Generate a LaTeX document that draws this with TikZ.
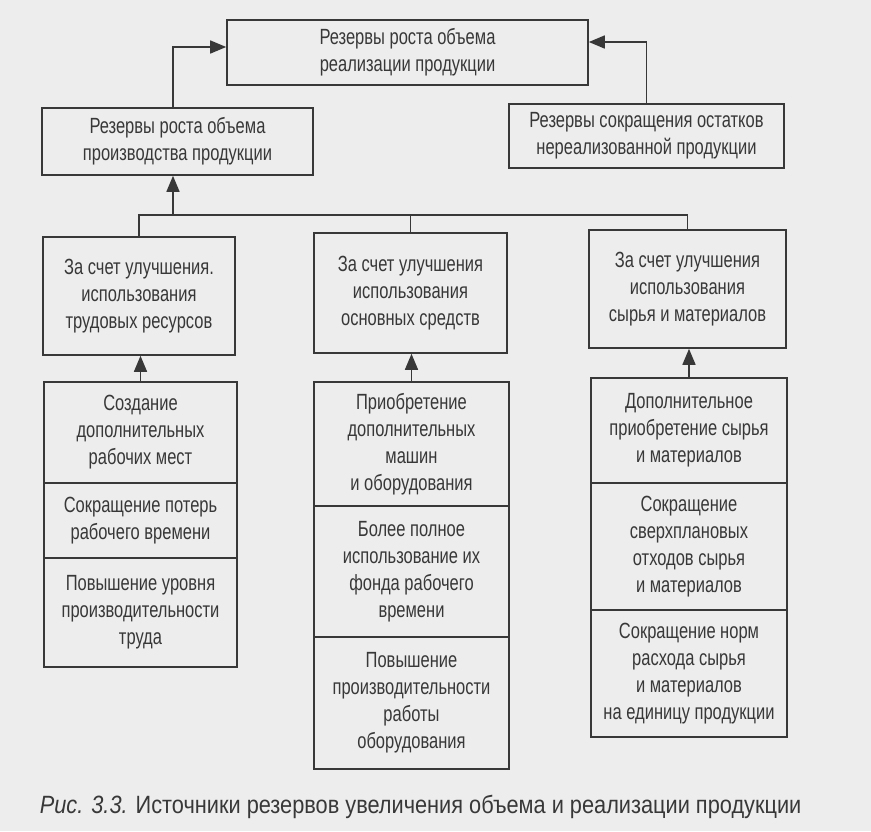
\documentclass[tikz,border=0pt]{standalone}
\usepackage{fontspec}
\setmainfont[FakeStretch=0.75]{Liberation Sans}
\newfontfamily\capfont[FakeStretch=0.87]{Liberation Sans}
\usetikzlibrary{arrows.meta}

\begin{document}
\begin{tikzpicture}[x=1pt, y=-1pt, color=black!78, line width=1.6pt, >={Triangle[length=16pt,width=13pt]}]
	\tikzstyle{every node}=[draw, align=center, inner sep=0pt, font=\fontsize{22}{27}\selectfont]
	\tikzstyle{col1}=[minimum width=193pt]
	\tikzstyle{col2}=[minimum width=195pt]
	\tikzstyle{col3}=[minimum width=196pt]

	\fill[black!7] (0,0) rectangle (871,831);

	\node (top) [minimum width=361pt, minimum height=65pt] at (407.5,52.5) {Резервы роста объема\\реализации продукции};
	\node (prod) [minimum width=271pt, minimum height=67pt] at (177.5,141.5) {Резервы роста объема\\производства продукции};
	\node (ost) [minimum width=275pt, minimum height=64pt] at (646.5,136) {Резервы сокращения остатков\\нереализованной продукции};

	\node (trud) [minimum width=192pt, minimum height=118pt] at (139,296) {За счет улучшения.\\использования\\трудовых ресурсов};
	\node (osn) [minimum width=193pt, minimum height=120pt] at (410.5,293) {За счет улучшения\\использования\\основных средств};
	\node (syr) [minimum width=197pt, minimum height=118pt] at (687.5,289) {За счет улучшения\\использования\\сырья и материалов};

	\node (trud1) [col1, minimum height=101pt] at (140.5,432.5) {Создание\\дополнительных\\рабочих мест};
	\node (trud2) [col1, minimum height=75pt] at (140.5,520.5) {Сокращение потерь\\рабочего времени};
	\node (trud3) [col1, minimum height=109pt] at (140.5,612.5) {Повышение уровня\\производительности\\труда};

	\node (osn1) [col2, minimum height=124pt] at (411.5,444) {Приобретение\\дополнительных\\машин\\и оборудования};
	\node (osn2) [col2, minimum height=131pt] at (411.5,571.5) {Более полное\\использование их\\фонда рабочего\\времени};
	\node (osn3) [col2, minimum height=132pt] at (411.5,703) {Повышение\\производительности\\работы\\оборудования};

	\node (syr1) [col3, minimum height=105pt] at (689,430.5) {Дополнительное\\приобретение сырья\\и материалов};
	\node (syr2) [col3, minimum height=127pt] at (689,546.5) {Сокращение\\сверхплановых\\отходов сырья\\и материалов};
	\node (syr3) [col3, minimum height=127pt] at (689,673.5) {Сокращение норм\\расхода сырья\\и материалов\\на единицу продукции};

	\coordinate (bus) at (173,215);
	\draw (trud.north) |- (bus) -| (syr.north);
	\draw (osn.north) -- (osn.north |- bus);
	\draw[->] (bus) -- (bus |- prod.south);
	\draw[->] (bus |- prod.north) |- ([yshift=5.5pt]top.west);
	\draw[->] (ost.north) |- ([yshift=10.5pt]top.east);

	\draw[->] (trud1.north) -- (trud1.north |- trud.south);
	\draw[->] (osn1.north) -- (osn1.north |- osn.south);
	\draw[->] (syr1.north) -- (syr1.north |- syr.south);

	\node (cap) [draw=none, anchor=base west, font=\capfont\fontsize{25}{29}\selectfont] at (39,813) {\textit{Рис. 3.3.} Источники резервов увеличения объема и реализации продукции};
\end{tikzpicture}
\end{document}
